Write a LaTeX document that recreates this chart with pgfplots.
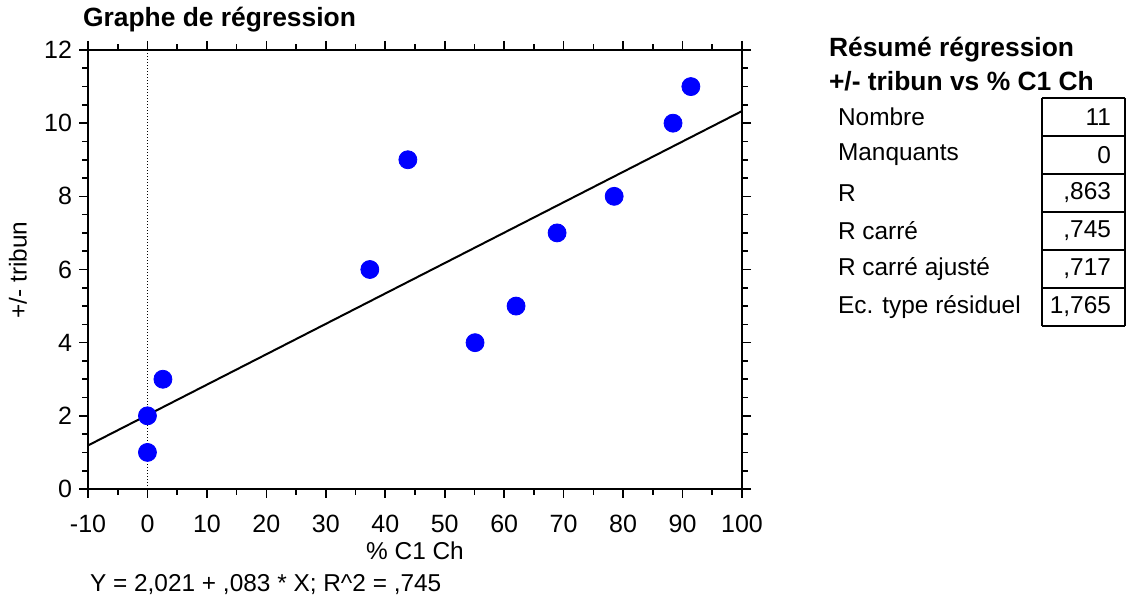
\documentclass[border=0pt]{standalone}
\usepackage{pgfplots}
\pgfplotsset{compat=1.18}
\usepackage{fontspec}
\setmainfont{Liberation Sans}
\definecolor{ptblue}{RGB}{0,0,255}
\begin{document}
\begin{tikzpicture}
\useasboundingbox (-44pt,-58pt) rectangle (519pt,244.5pt);
\begin{axis}[
    at={(0pt,0pt)}, anchor=south west,
    scale only axis,
    width=327pt, height=219.5pt,
    xmin=-10, xmax=100, ymin=0, ymax=12,
    xtick={-10,0,...,100}, ytick={0,2,...,12},
    minor x tick num=1, minor y tick num=3,
    xtick pos=both, ytick pos=both,
    tick align=outside,
    major tick length=4.5pt, minor tick length=2.8pt,
    axis line style={line width=1pt},
    every tick/.style={black, line width=0.8pt},
    ticklabel style={font=\fontsize{12.5}{14}\selectfont},
    xticklabel style={yshift=-5pt},
    /pgf/number format/assume math mode=true,
    clip=false,
]
    % zero reference
    \addplot[black, densely dotted, line width=0.5pt] coordinates {(0,0) (0,12)};
    % fitted line Y = 2,021 + ,083 X
    \addplot[black, line width=1pt] coordinates {(-10,1.19) (100,10.33)};
    \addplot[only marks, mark=*, mark size=4.5pt, ptblue, mark options={draw=ptblue, fill=ptblue}]
        coordinates {
        (0,1) (0,2) (2.6,3) (37.4,6) (43.8,9) (55.1,4)
        (62.0,5) (68.9,7) (78.5,8) (88.4,10) (91.4,11)
    };
\end{axis}
\begin{scope}[font=\fontsize{12.2}{14}\selectfont]
\node[anchor=west, font=\fontsize{13.2}{15}\selectfont\bfseries] at (-6pt,234.5pt) {Graphe de régression};
\node[rotate=90] at (-35pt,109.5pt) {+/- tribun};
\node at (163.5pt,-31pt) {\% C1 Ch};
\node[anchor=west] at (-2.5pt,-48pt) {Y = 2,021 + ,083 * X; R\textasciicircum 2 = ,745};
\node[anchor=west, font=\fontsize{13.2}{15}\selectfont\bfseries] at (367pt,219.5pt) {Résumé régression};
\node[anchor=west, font=\fontsize{13.2}{15}\selectfont\bfseries] at (367pt,204pt) {+/- tribun vs \% C1 Ch};
% summary rows
\foreach \lab/\val [count=\i] in {Nombre/11, Manquants/0, R/{,863}, R carré/{,745}, R carré ajusté/{,717}, Ec. type résiduel/{1,765}} {
    \pgfmathsetmacro{\yc}{186-19*(\i-1)}
    \node[anchor=west] at (371.5pt,\yc pt) {\lab};
    \node[anchor=east] at (515pt,\yc pt) {\val};
    \draw[line width=0.8pt] (477pt,\yc pt+9.5pt) -- (477pt,\yc pt-9.5pt);
    \draw[line width=0.8pt] (518.5pt,\yc pt+9.5pt) -- (518.5pt,\yc pt-9.5pt);
    \draw[line width=0.8pt] (477pt,\yc pt-9.5pt) -- (518.5pt,\yc pt-9.5pt);
}
\draw[line width=0.8pt] (477pt,195.5pt) -- (518.5pt,195.5pt);
\end{scope}
\end{tikzpicture}
\end{document}
